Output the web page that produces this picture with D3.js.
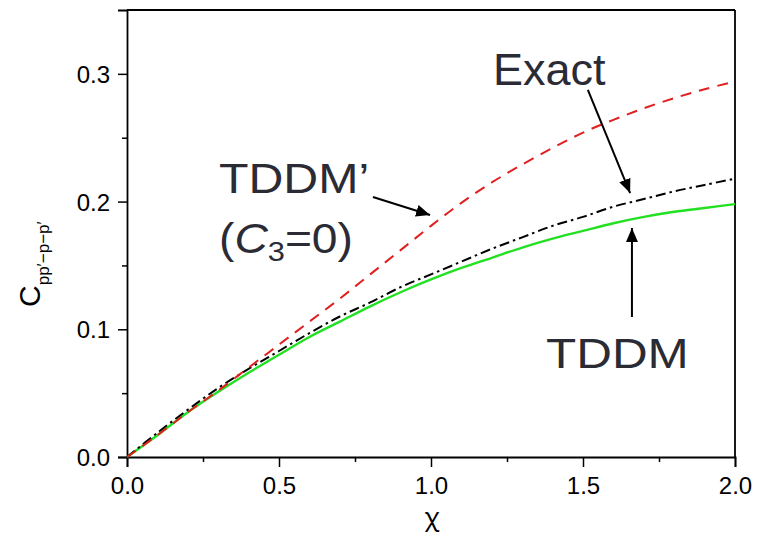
<!DOCTYPE html>
<html><head><meta charset="utf-8">
<script src="https://cdn.jsdelivr.net/npm/d3@7"></script>
<style>body{margin:0;background:#fff}svg{display:block}</style>
</head><body>
<svg id="chart" width="767" height="539"></svg>
<script>
const chi = [0,0.1,0.2,0.3,0.4,0.5,0.6,0.7,0.8,0.9,1.0,1.1,1.2,1.3,1.4,1.5,1.6,1.7,1.8,1.9,2.0];
const tddmPrime = [0,0.017,0.035,0.052,0.070,0.088,0.106,0.124,0.143,0.162,0.181,0.199,0.215,0.229,0.242,0.254,0.264,0.273,0.281,0.288,0.294];
const exact = [0,0.019,0.037,0.054,0.069,0.083,0.097,0.110,0.121,0.133,0.143,0.153,0.163,0.172,0.181,0.188,0.196,0.202,0.208,0.213,0.218];
const tddm = [0,0.017,0.035,0.051,0.066,0.080,0.094,0.106,0.118,0.129,0.139,0.148,0.156,0.164,0.171,0.177,0.183,0.188,0.192,0.195,0.198];
const xTicks = [0,0.5,1.0,1.5,2.0];
const xMinor = [0.25,0.75,1.25,1.75];
const yTicks = [0,0.1,0.2,0.3];
const yMinor = [0.05,0.15,0.25];

const svg = d3.select("#chart");
const x = d3.scaleLinear().domain([0,2]).range([127,735]);
const y = d3.scaleLinear().domain([0,0.35]).range([457,10]);

const font = "'Liberation Sans', Arial, sans-serif";

// frame top/right
svg.append("line").attr("x1",x(0)).attr("x2",x(2)).attr("y1",y(0.35)).attr("y2",y(0.35)).attr("stroke","#000").attr("stroke-width",1.8);
svg.append("line").attr("x1",x(2)).attr("x2",x(2)).attr("y1",y(0.35)).attr("y2",y(0)).attr("stroke","#000").attr("stroke-width",1.8);

// axes
const xAxis = svg.append("g").attr("transform",`translate(0,${y(0)})`)
  .call(d3.axisBottom(x).tickValues(xTicks).tickFormat(d3.format(".1f")).tickSize(10).tickPadding(10));
const xAxisMinor = svg.append("g").attr("transform",`translate(0,${y(0)})`)
  .call(d3.axisBottom(x).tickValues(xMinor).tickFormat("").tickSize(5));
const yAxis = svg.append("g").attr("transform",`translate(${x(0)},0)`)
  .call(d3.axisLeft(y).tickValues(yTicks).tickFormat(d3.format(".1f")).tickSize(9).tickPadding(8));
const yAxisMinor = svg.append("g").attr("transform",`translate(${x(0)},0)`)
  .call(d3.axisLeft(y).tickValues(yMinor).tickFormat("").tickSize(5));
[xAxis,xAxisMinor,yAxis,yAxisMinor].forEach(g=>{
  g.selectAll("path").attr("stroke","#000").attr("stroke-width",1.8);
  g.selectAll("line").attr("stroke","#000").attr("stroke-width",1.5);
  g.selectAll("text").attr("font-family",font).attr("font-size",24).attr("fill","#000");
});
xAxisMinor.select("path").remove();
yAxisMinor.select("path").remove();
yAxis.selectAll("text").attr("dy","0.36em");

// axis labels
svg.append("text").attr("x",432).attr("y",526).attr("text-anchor","middle")
  .attr("font-family","'Noto Sans', 'DejaVu Sans', sans-serif").attr("font-size",25).text("χ");
const yl = svg.append("text").attr("transform","translate(40,307) rotate(-90)")
  .attr("font-family",font).attr("font-size",30);
yl.append("tspan").text("C");
yl.append("tspan").attr("font-size",17).attr("dy",9).text("pp′−p−p′");

// curves
const line = d3.line().x((d,i)=>x(chi[i])).y(d=>y(d)).curve(d3.curveCatmullRom);
const g = svg.append("g");
g.append("path").attr("d",line(tddm)).attr("fill","none").attr("stroke","#22e022").attr("stroke-width",2.4);
g.append("path").attr("d",line(exact)).attr("fill","none").attr("stroke","#000").attr("stroke-width",2)
  .attr("stroke-dasharray","10,4,2.5,4");
g.append("path").attr("d",line(tddmPrime)).attr("fill","none").attr("stroke","#e02020").attr("stroke-width",2)
  .attr("stroke-dasharray","11,8");

// arrows
svg.append("defs").append("marker").attr("id","ah").attr("viewBox","0 0 14 12")
  .attr("refX",14).attr("refY",6).attr("markerWidth",14).attr("markerHeight",12)
  .attr("markerUnits","userSpaceOnUse").attr("orient","auto")
  .append("path").attr("d","M0,0 L14,6 L0,12 Z").attr("fill","#000");
const arrows = [
  {from:[1.516,0.2874], to:[1.655,0.2067]},
  {from:[0.809,0.2036], to:[0.997,0.1895]},
  {from:[1.661,0.1096], to:[1.661,0.1793]}
];
arrows.forEach(a=>{
  svg.append("line").attr("x1",x(a.from[0])).attr("y1",y(a.from[1]))
    .attr("x2",x(a.to[0])).attr("y2",y(a.to[1]))
    .attr("stroke","#000").attr("stroke-width",2).attr("marker-end","url(#ah)");
});

// annotation texts
const tc = "#2b2b36";
svg.append("text").attr("x",493).attr("y",85).attr("font-family",font).attr("font-size",45).attr("fill",tc).text("Exact");
svg.append("text").attr("transform","translate(219,193) scale(1.15,1)").attr("font-family",font).attr("font-size",42)
  .attr("fill",tc).text("TDDM’");
const t2 = svg.append("text").attr("transform","translate(219,253) scale(1.1,1)").attr("font-family",font).attr("font-size",42)
  .attr("fill",tc);
t2.append("tspan").text("(");
t2.append("tspan").attr("font-style","italic").text("C");
t2.append("tspan").attr("font-size",28).attr("dy",8).text("3");
t2.append("tspan").attr("dy",-8).text("=0)");
svg.append("text").attr("transform","translate(546,368) scale(1.15,1)").attr("font-family",font).attr("font-size",43)
  .attr("fill",tc).text("TDDM");
</script>
</body></html>
